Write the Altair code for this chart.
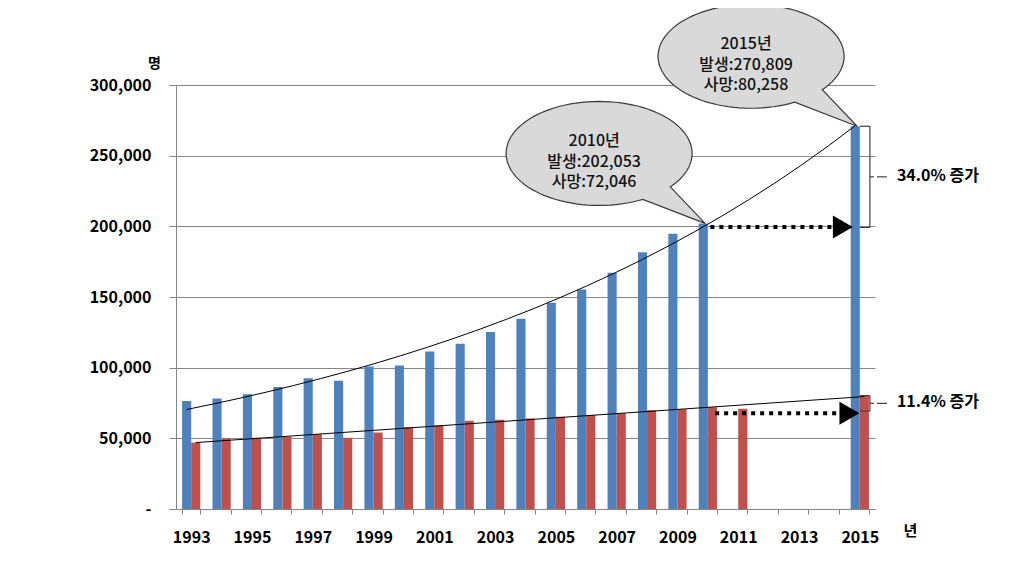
import math
import altair as alt
import pandas as pd

# ---------------- data ----------------
years = [1993, 1994, 1995, 1996, 1997, 1998, 1999, 2000, 2001, 2002, 2003, 2004,
         2005, 2006, 2007, 2008, 2009, 2010, 2011, 2012, 2013, 2014, 2015]
occur = [76500, 78100, 81200, 86400, 92500, 90800, 100900, 101600, 111500, 116900,
         125200, 134600, 145900, 155300, 167100, 181600, 194800, 202053,
         None, None, None, None, 270809]
deaths = [47000, 49900, 50400, 51100, 52900, 50400, 54100, 57900, 59300, 62400,
          63100, 64000, 65200, 66400, 67800, 69900, 70600, 72046, 70900,
          None, None, None, 80258]
series_names = ["발생", "사망"]
series_colors = ["#4F81BD", "#C0504D"]
y_ticks = [0, 50000, 100000, 150000, 200000, 250000, 300000]

callout_years = [2010, 2015]
callout_values = [202053, 270809]
callout_texts = ["2010년\n발생:202,053\n사망:72,046", "2015년\n발생:270,809\n사망:80,258"]

arrow_values = [202053, 72046]
arrow_start_pos = [0.64, 0.9]
arrow_end_pos = [0.2, 0.56]
arrow_offsets = [3.5, 6]

brace_tops = [270809, 80258]
brace_bottoms = [202053, 72046]
brace_labels = ["34.0% 증가", "11.4% 증가"]

FONT = "Noto Sans CJK KR"
GRAY = "#868686"

rows = []
for yr, o, d in zip(years, occur, deaths):
    if o is not None:
        rows.append({"year": yr, "series": series_names[0], "value": o})
    if d is not None:
        rows.append({"year": yr, "series": series_names[1], "value": d})
df = pd.DataFrame(rows)

xband = alt.Scale(type="band", domain=years, paddingInner=0.4, paddingOuter=0.2)
yscale = alt.Scale(domain=[0, 300000], nice=False)
xlin = alt.Scale(domain=[1992.65, 2015.65], nice=False, zero=False)

YAX = alt.Axis(
    title="명", titleAngle=0, titleX=-22, titleY=-22, titleAlign="center",
    titleBaseline="middle", titleFontSize=14, titleFontWeight="bold", titleColor="#000",
    values=y_ticks, labelExpr="datum.value == 0 ? '-' : format(datum.value, ',')",
    labelFontSize=16, labelFontWeight="bold", labelColor="#000", labelPadding=18,
    tickSize=7, tickColor=GRAY, domainColor=GRAY, grid=True, gridColor=GRAY)

def yfield(name):
    return alt.Y(f"{name}:Q", scale=yscale, axis=YAX)

# ---------------- bars ----------------
bars = alt.Chart(df).mark_bar().encode(
    x=alt.X("year:O", scale=xband, axis=alt.Axis(
        title="년", titleX=734, titleY=21, titleAlign="center", titleBaseline="middle",
        titleAngle=0, titleFontSize=15, titleFontWeight="bold", titleColor="#000",
        labelExpr="datum.value % 2 == 1 ? datum.label : ''", labelAngle=0,
        labelFontSize=16, labelFontWeight="bold", labelColor="#000", labelPadding=15,
        labelOverlap=False, labelFlush=False, tickBand="extent", tickSize=5,
        tickColor=GRAY, domainColor=GRAY, grid=False)),
    xOffset=alt.XOffset("series:N", scale=alt.Scale(domain=series_names, paddingInner=0, paddingOuter=0)),
    y=yfield("value"),
    color=alt.Color("series:N", scale=alt.Scale(domain=series_names, range=series_colors), legend=None),
)

# ---------------- trend lines ----------------
trend_blue = alt.Chart(df).transform_filter(
    alt.datum.series == series_names[0]
).transform_regression(
    on="year", regression="value", method="exp", extent=[1993, 2015]
).mark_line(color="black", strokeWidth=1).encode(
    x=alt.X("year:Q", scale=xlin, axis=None),
    y=yfield("value"),
)
trend_red = alt.Chart(df).transform_filter(
    alt.datum.series == series_names[1]
).transform_calculate(
    yr="datum.year + 0.3"
).transform_regression(
    on="yr", regression="value", method="linear", extent=[1993.3, 2015.3]
).mark_line(color="black", strokeWidth=1).encode(
    x=alt.X("yr:Q", scale=xlin, axis=None),
    y=yfield("value"),
)

# ---------------- annotations ----------------
def xd(year, pos):
    return alt.XDatum(year, type="ordinal", bandPosition=pos, scale=xband, axis=None)

annot_layers = []
for v, s, e, off in zip(arrow_values, arrow_start_pos, arrow_end_pos, arrow_offsets):
    adf = pd.DataFrame({"v": [v]})
    annot_layers.append(
        alt.Chart(adf).mark_rule(color="black", strokeWidth=4, strokeDash=[4, 5],
                                 x2Offset=-22, yOffset=off).encode(
            x=xd(2010, s), x2=alt.X2Datum(2015, bandPosition=e), y=yfield("v"))
    )
    annot_layers.append(
        alt.Chart(adf).mark_point(shape="triangle-right", size=529, filled=True, color="black",
                                  opacity=1, xOffset=-11.5, yOffset=off).encode(
            x=xd(2015, e), y=yfield("v"))
    )

# speech-bubble outline (tip at origin, pixels)
def callout_path(cx, cy, rx, ry, a1, a2, n=96):
    parts = ["M0,0"]
    end = a2 - 360
    for k in range(n + 1):
        t = math.radians(a1 + (end - a1) * k / n)
        parts.append(f"L{cx + rx * math.cos(t):.1f},{cy + ry * math.sin(t):.1f}")
    parts.append("Z")
    return "".join(parts)

BUBBLE = callout_path(-106, -70, 93, 52, 40, 62)
cdf = pd.DataFrame({"year": callout_years, "v": callout_values, "label": callout_texts})
annot_layers.append(
    alt.Chart(cdf).mark_point(shape=BUBBLE, size=4, filled=True, fill="#D9D9D9",
                              stroke="#3A3A3A", strokeWidth=1.2, opacity=1).encode(
        x=alt.X("year:O", scale=xband, axis=None, bandPosition=0.35), y=yfield("v"))
)
annot_layers.append(
    alt.Chart(cdf).mark_text(align="center", baseline="middle", dx=-111, dy=-82,
                             lineBreak="\n", lineHeight=20.5, font=FONT, fontSize=16,
                             fontWeight=500, color="#111").encode(
        x=alt.X("year:O", scale=xband, axis=None, bandPosition=0.35), y=yfield("v"),
        text="label:N")
)

bdf = pd.DataFrame({
    "top": brace_tops, "bottom": brace_bottoms,
    "mid": [(a + b) / 2 for a, b in zip(brace_tops, brace_bottoms)],
    "label": brace_labels,
})
BR = "#404040"
annot_layers += [
    alt.Chart(bdf).mark_rule(color=BR, strokeWidth=1.2, xOffset=-9, x2Offset=1).encode(
        x=xd(2015, 1), x2=alt.X2Datum(2015, bandPosition=1), y=yfield("top")),
    alt.Chart(bdf).mark_rule(color=BR, strokeWidth=1.2, xOffset=1, y2Offset=4).encode(
        x=xd(2015, 1), y=yfield("top"), y2="bottom:Q"),
    alt.Chart(bdf).mark_rule(color=BR, strokeWidth=1.2, xOffset=-9, x2Offset=1, yOffset=4).encode(
        x=xd(2015, 1), x2=alt.X2Datum(2015, bandPosition=1), y=yfield("bottom")),
    alt.Chart(bdf).mark_rule(color=BR, strokeWidth=1.2, xOffset=1, x2Offset=5, yOffset=2).encode(
        x=xd(2015, 1), x2=alt.X2Datum(2015, bandPosition=1), y=yfield("mid")),
    alt.Chart(bdf).mark_rule(color=BR, strokeWidth=1.2, xOffset=8, x2Offset=18, yOffset=2).encode(
        x=xd(2015, 1), x2=alt.X2Datum(2015, bandPosition=1), y=yfield("mid")),
    alt.Chart(bdf).mark_text(align="left", baseline="middle", dx=28, dy=1, font=FONT,
                             fontSize=16, fontWeight="bold", color="#000").encode(
        x=xd(2015, 1), y=yfield("mid"), text="label:N"),
]

chart = alt.layer(bars, trend_blue, trend_red, *annot_layers).resolve_scale(
    x="independent"
).properties(
    width=699, height=424,
    autosize=alt.AutoSizeParams(type="none"),
    padding={"left": 168, "top": 77, "right": 140, "bottom": 47},
).configure_view(stroke=None).configure_axis(labelFont=FONT, titleFont=FONT)

chart.save("out.html", embed_options={"renderer": "svg", "actions": False})
